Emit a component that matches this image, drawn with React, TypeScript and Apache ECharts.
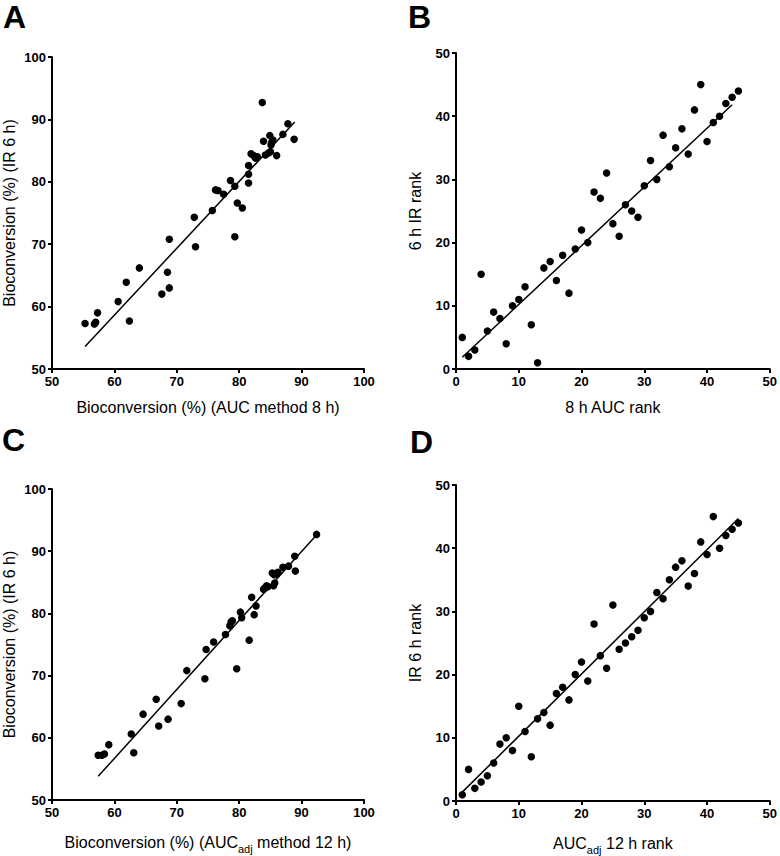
import React, { useEffect, useRef } from "react";
import * as echarts from "echarts";

// Panel A: Bioconversion AUC 8 h (x) vs IR 6 h (y)
const panelA: number[][] = [
  [55.3, 57.3], [56.8, 57.2], [57.0, 57.5], [57.3, 59.0], [60.6, 60.8], [61.9, 63.9],
  [62.4, 57.7], [64.0, 66.2], [67.6, 62.0], [68.5, 65.5], [68.8, 63.0], [68.8, 70.8],
  [72.8, 74.3], [73.0, 69.6], [75.7, 75.4], [76.2, 78.7], [76.6, 78.6], [77.5, 78.0],
  [78.6, 80.2], [79.3, 79.3], [79.3, 71.2], [79.7, 76.6], [80.5, 75.8], [81.5, 79.8],
  [81.5, 81.2], [81.5, 82.6], [81.9, 84.5], [82.3, 84.2], [82.6, 83.8], [82.9, 84.0],
  [83.7, 92.7], [83.9, 86.5], [84.2, 84.3], [84.7, 84.6], [85.0, 84.8], [84.9, 87.4],
  [85.1, 85.9], [85.4, 86.7], [85.2, 86.3], [86.0, 84.2], [87.0, 87.6], [87.8, 89.3],
  [88.8, 86.8],
];
const lineA: number[][] = [[55.3, 53.6], [88.9, 89.6]];

// Panel B: 8 h AUC rank (x) vs 6 h IR rank (y)
const rankB: number[][] = [
  [1, 5], [2, 2], [3, 3], [4, 15], [5, 6], [6, 9], [7, 8], [8, 4], [9, 10], [10, 11],
  [11, 13], [12, 7], [13, 1], [14, 16], [15, 17], [16, 14], [17, 18], [18, 12], [19, 19],
  [20, 22], [21, 20], [22, 28], [23, 27], [24, 31], [25, 23], [26, 21], [27, 26], [28, 25],
  [29, 24], [30, 29], [31, 33], [32, 30], [33, 37], [34, 32], [35, 35], [36, 38], [37, 34],
  [38, 41], [39, 45], [40, 36], [41, 39], [42, 40], [43, 42], [44, 43], [45, 44],
];
const lineB: number[][] = [[1, 1.85], [44, 41.8]];

// Panel C: Bioconversion AUCadj 12 h (x) vs IR 6 h (y)
const panelC: number[][] = [
  [57.4, 57.2], [58.0, 57.2], [58.4, 57.4], [59.1, 58.9], [62.7, 60.6], [63.1, 57.6],
  [64.6, 63.8], [66.7, 66.2], [67.1, 61.9], [68.6, 63.0], [70.7, 65.5], [71.6, 70.8],
  [74.5, 69.5], [74.7, 74.2], [75.9, 75.4], [77.8, 76.6], [78.5, 78.0], [78.7, 78.6],
  [78.9, 78.8], [79.6, 71.1], [80.2, 80.2], [80.4, 79.3], [81.6, 75.7], [82.0, 82.6],
  [82.4, 79.8], [82.7, 81.2], [83.9, 83.9], [84.1, 84.1], [84.4, 84.45], [84.6, 84.3],
  [85.3, 86.5], [85.6, 86.2], [85.5, 84.45], [85.7, 84.9], [86.0, 86.3], [86.2, 86.6],
  [87.0, 87.4], [87.9, 87.6], [88.9, 89.2], [89.0, 86.8], [92.4, 92.7],
];
const lineC: number[][] = [[57.4, 53.8], [92.1, 92.3]];

// Panel D: AUCadj 12 h rank (x) vs IR 6 h rank (y)
const rankD: number[][] = [
  [1, 1], [2, 5], [3, 2], [4, 3], [5, 4], [6, 6], [7, 9], [8, 10], [9, 8], [10, 15],
  [11, 11], [12, 7], [13, 13], [14, 14], [15, 12], [16, 17], [17, 18], [18, 16], [19, 20],
  [20, 22], [21, 19], [22, 28], [23, 23], [24, 21], [25, 31], [26, 24], [27, 25], [28, 26],
  [29, 27], [30, 29], [31, 30], [32, 33], [33, 32], [34, 35], [35, 37], [36, 38], [37, 34],
  [38, 36], [39, 41], [40, 39], [41, 45], [42, 40], [43, 42], [44, 43], [45, 44],
];
const lineD: number[][] = [[1, 1.4], [45, 44.7]];

const panelLetters = ["A", "B", "C", "D"];

const FONT = '"Liberation Sans", Arial, sans-serif';

function axisBase(min: number, max: number, interval: number) {
  return {
    type: "value" as const,
    min,
    max,
    interval,
    splitLine: { show: false },
    axisLine: { show: true, onZero: false, lineStyle: { color: "#000", width: 2 } },
    axisTick: { show: true, inside: false, length: 4, lineStyle: { color: "#000", width: 2 } },
    axisLabel: { color: "#000", fontWeight: "bold" as const, fontSize: 13, fontFamily: FONT, margin: 6 },
    nameLocation: "middle" as const,
    nameTextStyle: {
      color: "#000000",
      fontSize: 16,
      fontFamily: FONT,
      rich: {
        sub: {
          fontSize: 11,
          fontFamily: FONT,
          color: "#000000",
          fontWeight: "normal",
          verticalAlign: "bottom",
          lineHeight: 24,
        },
      },
    },
  };
}

export default function App() {
  const ref = useRef<HTMLDivElement>(null);
  useEffect(() => {
    if (!ref.current) return;
    const chart = echarts.init(ref.current, undefined, { renderer: "svg" });
    const grids = [
      { left: 52, top: 57, width: 312, height: 312 },
      { left: 456, top: 53, width: 316, height: 316 },
      { left: 52, top: 489, width: 312, height: 311 },
      { left: 456, top: 485, width: 316, height: 316 },
    ];
    const xNames = [
      "Bioconversion (%) (AUC method 8 h)",
      "8 h AUC rank",
      "Bioconversion (%) (AUC{sub|adj} method 12 h)",
      "AUC{sub|adj} 12 h rank",
    ];
    const yNames = ["Bioconversion (%) (IR 6 h)", "6 h IR rank", "Bioconversion (%) (IR 6 h)", "IR 6 h rank"];
    const ranges = [
      [50, 100, 10],
      [0, 50, 10],
      [50, 100, 10],
      [0, 50, 10],
    ];
    const scatterData = [panelA, rankB, panelC, rankD];
    const lineData = [lineA, lineB, lineC, lineD];
    const letterPos = [
      [3, 1],
      [408, 1],
      [2, 424],
      [410, 426],
    ];

    const option: any = {
      animation: false,
      backgroundColor: "#fff",
      grid: grids.map((g) => ({ ...g, containLabel: false })),
      xAxis: ranges.map((r, i) => ({
        ...axisBase(r[0], r[1], r[2]),
        gridIndex: i,
        name: xNames[i],
        nameGap: 30,
      })),
      yAxis: ranges.map((r, i) => ({
        ...axisBase(r[0], r[1], r[2]),
        gridIndex: i,
        name: yNames[i],
        nameGap: i % 2 === 0 ? 35 : 33,
      })),
      series: [
        ...scatterData.map((d, i) => ({
          type: "scatter",
          xAxisIndex: i,
          yAxisIndex: i,
          data: d,
          symbol: "circle",
          symbolSize: 7.5,
          itemStyle: { color: "#000", opacity: 1 },
          z: 3,
        })),
        ...lineData.map((d, i) => ({
          type: "line",
          xAxisIndex: i,
          yAxisIndex: i,
          data: d,
          symbol: "none",
          lineStyle: { color: "#000", width: 1.5 },
          z: 2,
        })),
      ],
      graphic: panelLetters.map((t, i) => ({
        type: "text",
        left: letterPos[i][0],
        top: letterPos[i][1],
        style: { text: t, font: `bold 32px ${FONT}`, fill: "#000" },
      })),
    };
    chart.setOption(option);
    return () => chart.dispose();
  }, []);
  return <div ref={ref} style={{ position: "fixed", left: 0, top: 0, width: 780, height: 856 }} />;
}
